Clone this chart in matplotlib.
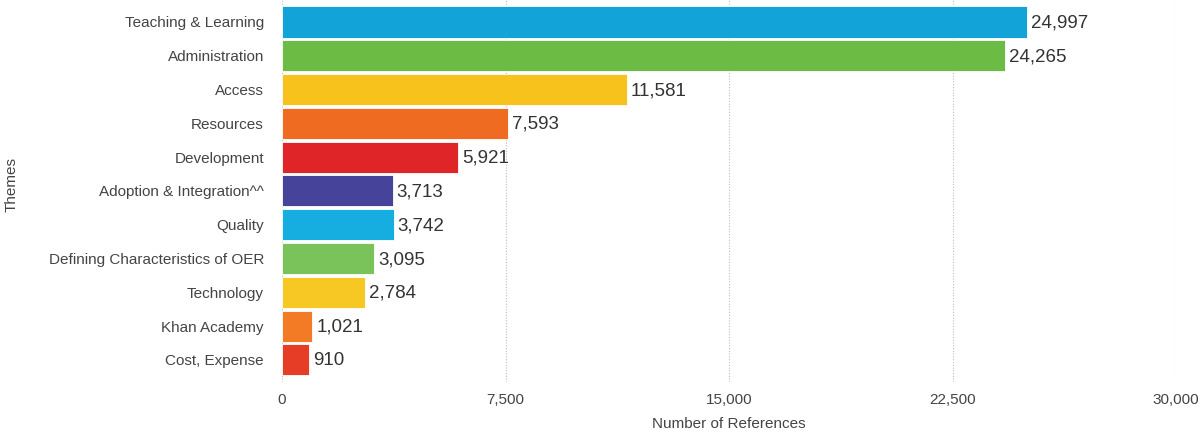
import matplotlib.pyplot as plt

themes = ["Teaching & Learning", "Administration", "Access", "Resources", "Development",
          "Adoption & Integration^^", "Quality", "Defining Characteristics of OER",
          "Technology", "Khan Academy", "Cost, Expense"]
references = [24997, 24265, 11581, 7593, 5921, 3713, 3742, 3095, 2784, 1021, 910]
colors = ["#12A3D9", "#6CBB45", "#F6C21B", "#F06B22", "#E02528", "#46439A",
          "#16AEE0", "#7AC25A", "#F7C824", "#F47B26", "#E63D26"]
xticks = [0, 7500, 15000, 22500, 30000]

plt.rcParams['font.family'] = ['Liberation Sans', 'DejaVu Sans']

fig = plt.figure(figsize=(12, 4.33), dpi=100)
ax = fig.add_axes([0.235, 0.118, 0.745, 0.882])

ypos = list(range(len(themes)))
ax.barh(ypos, references, height=0.92, color=colors, edgecolor="#ffffff", linewidth=0.6, zorder=3)
for y, v in zip(ypos, references):
    ax.text(v + 130, y + 0.03, f"{v:,}", va="center", ha="left", fontsize=13.5,
            color="#333333", fontweight="medium", zorder=4)

ax.set_xlim(0, 30000)
ax.set_ylim(10.65, -0.65)
ax.set_xticks(xticks)
ax.set_xticklabels([f"{t:,}" for t in xticks])
ax.set_yticks(ypos)
ax.set_yticklabels(themes)
ax.tick_params(axis="both", length=0, labelsize=11, colors="#444444")
ax.tick_params(axis="x", pad=8)
ax.tick_params(axis="y", pad=13)
ax.grid(axis="x", linestyle=(0, (1, 1.5)), color="#bbbbbb", linewidth=0.8, zorder=0)
for s in ax.spines.values():
    s.set_visible(False)

ax.set_xlabel("Number of References", fontsize=11, color="#444444", labelpad=7)
fig.text(0.004, 0.575, "Themes", rotation=90, va="center", ha="left", fontsize=11, color="#444444")

fig.savefig("out.png", dpi=100)
